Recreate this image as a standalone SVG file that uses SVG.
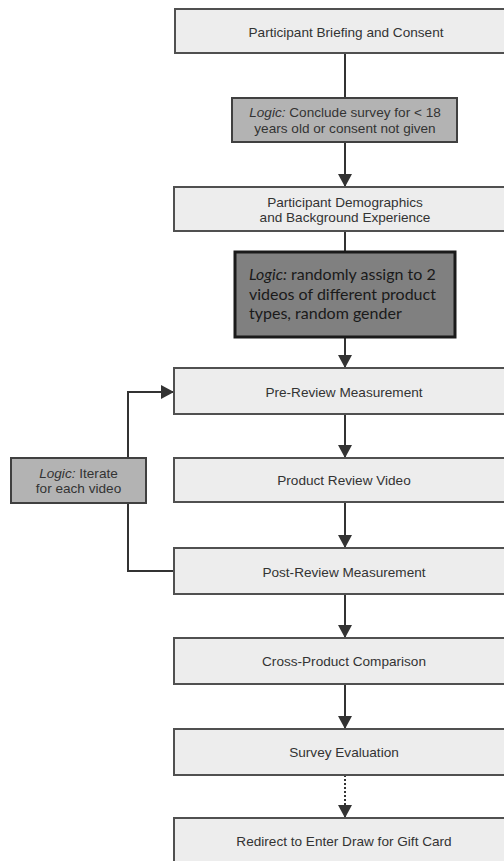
<svg xmlns="http://www.w3.org/2000/svg" width="504" height="861" viewBox="0 0 504 861">
<style>
.box{fill:#ededed;stroke:#505050;stroke-width:2}
.lg{fill:#b3b3b3;stroke:#404040;stroke-width:2}
.lg2{fill:#808080;stroke:#1a1a1a;stroke-width:3}
.t{font-family:"Liberation Sans",Arial,sans-serif;font-size:13.6px;fill:#333;text-anchor:middle}
.t2{font-family:Lato,"Liberation Sans",sans-serif;font-size:16px;fill:#1a1a1a}
.c{fill:none;stroke:#333;stroke-width:2}
</style>
<defs>
<marker id="ah" markerUnits="userSpaceOnUse" markerWidth="14" markerHeight="14" refX="13" refY="7" orient="auto" viewBox="0 0 14 14">
<path d="M0,0 L13,7 L0,14 z" fill="#333"/>
</marker>
</defs>
<rect width="504" height="861" fill="#fff"/>
<g id="connectors">
<path class="c" d="M345,53 V98"/>
<path class="c" d="M345,142 V187" marker-end="url(#ah)"/>
<path class="c" d="M345,231 V252"/>
<path class="c" d="M345,337 V368" marker-end="url(#ah)"/>
<path class="c" d="M345,414 V458" marker-end="url(#ah)"/>
<path class="c" d="M345,502 V548" marker-end="url(#ah)"/>
<path class="c" d="M345,594 V638" marker-end="url(#ah)"/>
<path class="c" d="M345,684 V729" marker-end="url(#ah)"/>
<path class="c" d="M345,775 V818" stroke-dasharray="2,2" marker-end="url(#ah)"/>
<path class="c" d="M174,571 H128 V392 H174" marker-end="url(#ah)"/>
</g>
<g id="n1"><rect class="box" x="175" y="9" width="345" height="44"/><text class="t" x="346" y="37">Participant Briefing and Consent</text></g>
<g id="logic1"><rect class="lg" x="232" y="98" width="225" height="44"/><text class="t" x="345" y="116.5"><tspan font-style="italic">Logic:</tspan> Conclude survey for &lt; 18</text><text class="t" x="345" y="132.5">years old or consent not given</text></g>
<g id="n2"><rect class="box" x="174" y="187" width="345" height="44"/><text class="t" x="345" y="207">Participant Demographics</text><text class="t" x="345" y="222">and Background Experience</text></g>
<g id="logic2"><rect class="lg2" x="235" y="252" width="220" height="85"/><text class="t2" x="249" y="280"><tspan font-style="italic">Logic:</tspan> randomly assign to 2</text><text class="t2" x="249" y="300">videos of different product</text><text class="t2" x="249" y="319">types, random gender</text></g>
<g id="n3"><rect class="box" x="174" y="368" width="345" height="46"/><text class="t" x="344" y="396.5">Pre-Review Measurement</text></g>
<g id="n4"><rect class="box" x="174" y="458" width="345" height="44"/><text class="t" x="344" y="485">Product Review Video</text></g>
<g id="logic3"><rect class="lg" x="11" y="458" width="135" height="45"/><text class="t" x="78.5" y="477.5"><tspan font-style="italic">Logic:</tspan> Iterate</text><text class="t" x="78.5" y="492.5">for each video</text></g>
<g id="n5"><rect class="box" x="174" y="548" width="345" height="46"/><text class="t" x="344" y="576.5">Post-Review Measurement</text></g>
<g id="n6"><rect class="box" x="174" y="638" width="345" height="46"/><text class="t" x="344" y="666">Cross-Product Comparison</text></g>
<g id="n7"><rect class="box" x="174" y="729" width="345" height="46"/><text class="t" x="344" y="756.5">Survey Evaluation</text></g>
<g id="n8"><rect class="box" x="174" y="818" width="345" height="60"/><text class="t" x="344" y="846">Redirect to Enter Draw for Gift Card</text></g>
</svg>
